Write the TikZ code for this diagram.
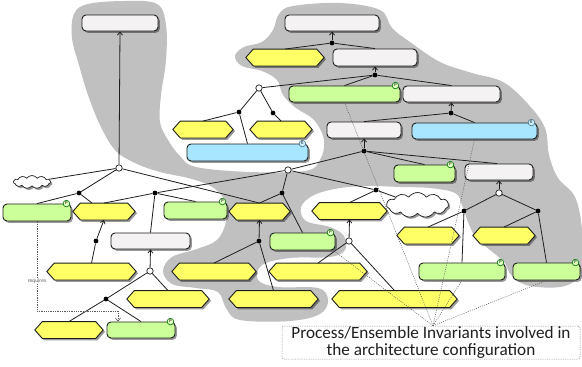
\documentclass[tikz,border=0pt]{standalone}
\usepackage{fontspec}
\setmainfont{Carlito}
\usetikzlibrary{shapes.symbols,shadows,arrows.meta}

\definecolor{bggrey}{HTML}{C0C0C0}
\definecolor{hexyellow}{HTML}{FFFF66}
\definecolor{procgreen}{HTML}{CCFF99}
\definecolor{ensblue}{HTML}{A8E6FF}
\definecolor{plainbox}{HTML}{F4F2F2}
\definecolor{inkline}{HTML}{1E1E1E}
\definecolor{tracegrey}{HTML}{5A5A5A}

% yellow hexagon: name, x, y, width
\newcommand\hexa[4]{%
  \node[hexframe, minimum width=#4pt] (#1) at (#2,#3) {};
  \path[hexfill] (#1.west) -- ([xshift=7.5pt]#1.north west) -- ([xshift=-7.5pt]#1.north east)
    -- (#1.east) -- ([xshift=-7.5pt]#1.south east) -- ([xshift=7.5pt]#1.south west) -- cycle;}

\begin{document}
\begin{tikzpicture}[
  x=1pt, y=-1pt,
  boxshadow/.style={drop shadow={shadow xshift=1.8pt, shadow yshift=-1.8pt, opacity=0.4, fill=black}},
  basebox/.style={rectangle, rounded corners=4pt, draw=inkline, line width=0.9pt, inner sep=0pt, boxshadow},
  plain/.style={basebox, fill=plainbox},
  proc/.style={basebox, fill=procgreen},
  ens/.style={basebox, fill=ensblue},
  hexframe/.style={rectangle, inner sep=0pt, minimum height=16.5pt},
  hexfill/.style={fill=hexyellow, draw=inkline, line width=0.9pt, line join=round, boxshadow},
  puff/.style={cloud, cloud puffs=11, cloud puff arc=110, cloud ignores aspect, draw=inkline,
    fill=white, line width=0.7pt, inner sep=0pt, boxshadow},
  joint/.style={circle, fill=black, inner sep=0pt, minimum size=4.8pt},
  fork/.style={circle, fill=white, draw=inkline, line width=0.7pt, inner sep=0pt, minimum size=6.4pt},
  badge/.style={circle, line width=0.6pt, inner sep=0pt, minimum size=6.6pt,
    font=\fontsize{4.5}{4.5}\selectfont},
  pbadge/.style={badge, draw=green!45!black, fill=procgreen!60!white},
  ebadge/.style={badge, draw=cyan!45!black, fill=ensblue!60!white},
  link/.style={draw=inkline, line width=0.8pt},
  refine/.style={link, -{Straight Barb[length=3pt, width=5pt]}},
  needs/.style={draw=tracegrey, line width=0.6pt, dash pattern=on 1.3pt off 1pt,
    -{Straight Barb[length=3pt, width=5pt]}},
  needslabel/.style={fill=white, inner sep=0.6pt, text=tracegrey, font=\fontsize{5.5}{6}\selectfont},
  trace/.style={draw=tracegrey, line width=0.5pt, dash pattern=on 1pt off 1.2pt},
  caption/.style={draw=gray, line width=0.5pt, dash pattern=on 0.8pt off 1pt, rounded corners=2pt,
    inner sep=0pt, minimum width=298pt, minimum height=33pt, align=center,
    text=black!88, font=\fontsize{17.2}{17}\selectfont}
]
\useasboundingbox (0,0) rectangle (582,367);
\fill[white] (0,0) rectangle (582,367);

% shaded area behind the configured part of the model
\fill[bggrey] plot[smooth cycle, tension=0.6] coordinates {
  (74,14) (88,4) (125,1) (157,4) (166,25) (166,60) (161,95) (160,122) (168,140) (180,156)
  (196,167) (250,172) (305,171) (320,160) (324,140) (314,120) (296,108) (283,95) (277,80)
  (262,71) (242,66) (235,56) (244,47) (262,42) (273,30) (279,14) (293,6) (340,3) (380,10)
  (392,28) (410,42) (440,62) (472,73) (503,82) (528,104) (545,128) (549,155) (558,178)
  (575,197) (582,230) (581,270) (565,286) (530,286) (512,276) (504,262) (490,250) (476,238)
  (468,222) (462,205) (455,193) (430,188) (400,187) (370,186) (340,188) (314,195) (301,207)
  (306,221) (330,227) (344,236) (345,250) (330,257) (290,258) (262,265) (258,280) (278,287)
  (318,288) (328,300) (320,314) (290,321) (240,320) (226,308) (218,292) (196,288) (172,284)
  (163,271) (172,257) (197,249) (217,240) (226,222) (226,203) (214,188) (192,179) (160,172)
  (135,163) (115,150) (100,125) (88,95) (79,65) (72,38)};

% plain goal boxes
\node[plain, minimum width=76pt, minimum height=16pt] (R1) at (120,23) {};
\node[plain, minimum width=94pt, minimum height=16pt] (R2) at (332,23) {};
\node[plain, minimum width=84pt, minimum height=17pt] (R3) at (375,57.5) {};
\node[plain, minimum width=97pt, minimum height=16pt] (R4) at (451.5,94) {};
\node[plain, minimum width=74pt, minimum height=16pt] (R5) at (364,130) {};
\node[plain, minimum width=68pt, minimum height=16pt] (R6) at (499,172) {};
\node[plain, minimum width=79pt, minimum height=16pt] (R7) at (150.5,241) {};

% process invariants
\node[proc, minimum width=111pt, minimum height=16pt] (G1) at (344.5,94) {};
\node[proc, minimum width=61pt, minimum height=17pt] (G2) at (424.5,173.5) {};
\node[proc, minimum width=68pt, minimum height=17pt] (G3) at (37,212.5) {};
\node[proc, minimum width=63pt, minimum height=17pt] (G4) at (195.5,210.5) {};
\node[proc, minimum width=65pt, minimum height=17pt] (G5) at (302.5,241.5) {};
\node[proc, minimum width=68pt, minimum height=16pt] (G6) at (141,330) {};
\node[proc, minimum width=86pt, minimum height=17pt] (G7) at (462,271.5) {};
\node[proc, minimum width=67pt, minimum height=17pt] (G8) at (546.5,271.5) {};
\foreach \g in {G1,G2,G3,G4,G5,G6,G7,G8}
  \node[pbadge] (\g-tag) at ([xshift=-5pt]\g.north east) {P};

% ensemble invariants
\node[ens, minimum width=121pt, minimum height=17pt] (B1) at (247.5,152.5) {};
\node[ens, minimum width=125pt, minimum height=16pt] (B2) at (474.5,131) {};
\foreach \b in {B1,B2}
  \node[ebadge] (\b-tag) at ([xshift=-6pt]\b.north east) {E};

% yellow hexagons
\hexa{Y1}{285}{57.5}{78}
\hexa{Y2}{203}{129.5}{60}
\hexa{Y3}{281}{129.5}{62}
\hexa{Y4}{104}{211.5}{62}
\hexa{Y5}{259.5}{211.5}{61}
\hexa{Y6}{349.5}{211}{75}
\hexa{Y7}{428}{235.5}{62}
\hexa{Y8}{504}{235.5}{62}
\hexa{Y9}{91.5}{271.5}{89}
\hexa{Y10}{214}{271.5}{84}
\hexa{Y11}{318}{271.5}{98}
\hexa{Y12}{168}{299}{82}
\hexa{Y13}{273.5}{299}{89}
\hexa{Y14}{394.5}{299}{125}
\hexa{Y15}{69}{330}{68}

% clouds
\node[puff, minimum width=37pt, minimum height=13pt] (C1) at (32,182) {};
\node[puff, minimum width=62pt, minimum height=25pt] (C2) at (417.5,205) {};

% refinement junctions
\node[fork] (O1) at (119,168) {};
\node[fork] (O2) at (259,88) {};
\node[fork] (O3) at (288,170) {};
\node[fork] (O4) at (150,271) {};
\node[fork] (O5) at (349,241) {};
\node[fork] (O6) at (499,193) {};
\node[joint] (D1) at (332,43) {};
\node[joint] (D2) at (375,75) {};
\node[joint] (D3) at (451,113) {};
\node[joint] (D4) at (239,112) {};
\node[joint] (D5) at (273,113) {};
\node[joint] (D6) at (364,151) {};
\node[joint] (D7) at (79,193) {};
\node[joint] (D8) at (155,193) {};
\node[joint] (D9) at (282,193) {};
\node[joint] (D10) at (376,190) {};
\node[joint] (D11) at (96,241) {};
\node[joint] (D12) at (259,241) {};
\node[joint] (D13) at (106,299) {};
\node[joint] (D14) at (464,211) {};
\node[joint] (D15) at (538,211) {};

% left tree
\draw[refine] (O1) -- (R1.south);
\draw[link] (O1) -- (C1);
\draw[link] (O1) -- (D7);
\draw[link] (O1) -- (Y5.north);
\draw[link] (D7) -- (G3.north);
\draw[link] (D7) -- ([xshift=-12pt]Y4.north);
\draw[link] (D8) -- (Y4.north);
\draw[link] (D8) -- (G4.north);
\draw[link] (D8) -- (R7.north);
\draw[refine] (D11) -- (Y4.south);
\draw[link] (D11) -- (Y9.north);
\draw[refine] (O4) -- (R7.south);
\draw[link] (O4) -- (D13);
\draw[link] (O4) -- (Y12.north);
\draw[link] (D13) -- (Y15.north);
\draw[link] (D13) -- (G6.north);

% middle tree
\draw[link] (O3) -- (D8);
\draw[link] (O3) -- (D9);
\draw[link] (O3) -- (D6);
\draw[link] (O3) -- (D10);
\draw[refine] (D6) -- (R5.south);
\draw[link] (D6) -- (G2.north);
\draw[link] (D6) -- ([xshift=-2pt]R6.north);
\draw[link] (D9) -- (Y5.north);
\draw[link] (D9) -- (G5.north);
\draw[link] (D10) -- (Y6.north);
\draw[link] (D10) -- (C2);
\draw[refine] (O5) -- (Y6.south);
\draw[link] (O5) -- (Y11.north);
\draw[link] (O5) -- (Y14.north);
\draw[refine] (D12) -- (Y5.south);
\draw[link] (D12) -- (Y10.north);
\draw[link] (D12) -- (Y13.north);

% right tree
\draw[refine] (O6) -- (R6.south);
\draw[link] (O6) -- (D14);
\draw[link] (O6) -- (D15);
\draw[link] (D14) -- (Y7.north);
\draw[link] (D14) -- (G7.north);
\draw[link] (D15) -- (Y8.north);
\draw[link] (D15) -- (G8.north);

% upper tree
\draw[refine] (D1) -- (R2.south);
\draw[link] (D1) -- (Y1.north);
\draw[link] (D1) -- (R3.north);
\draw[refine] (D2) -- (R3.south);
\draw[link] (D2) -- (O2);
\draw[link] (D2) -- (G1.north);
\draw[link] (D2) -- (R4.north);
\draw[refine] (D3) -- (R4.south);
\draw[link] (D3) -- (R5.north);
\draw[link] (D3) -- (B2.north);
\draw[link] (O2) -- (D4);
\draw[link] (O2) -- (D5);
\draw[link] (D4) -- (Y2.north);
\draw[link] (D4) -- (B1.north);
\draw[link] (D5) -- (Y3.north);

% dependency between process invariants
\draw[needs] (G3.south) -- node[needslabel, pos=0.667] (reqtext) {requires} ++(0,90)
  -| ([xshift=-23pt]G6.north);

% invariants of the configuration
\node[caption] (inv) at (431,342.5) {Process/Ensemble Invariants involved in\\the architecture configuration};
\coordinate (hub) at ([xshift=2pt]inv.north);
\draw[trace] (hub) -- (G1.south);
\draw[trace] (hub) -- (B2.south);
\draw[trace] (hub) -- ([xshift=-2pt]G5.south east);
\draw[trace] (hub) -- (G7.south);
\draw[trace] (hub) -- (G8.south);
\end{tikzpicture}
\end{document}
